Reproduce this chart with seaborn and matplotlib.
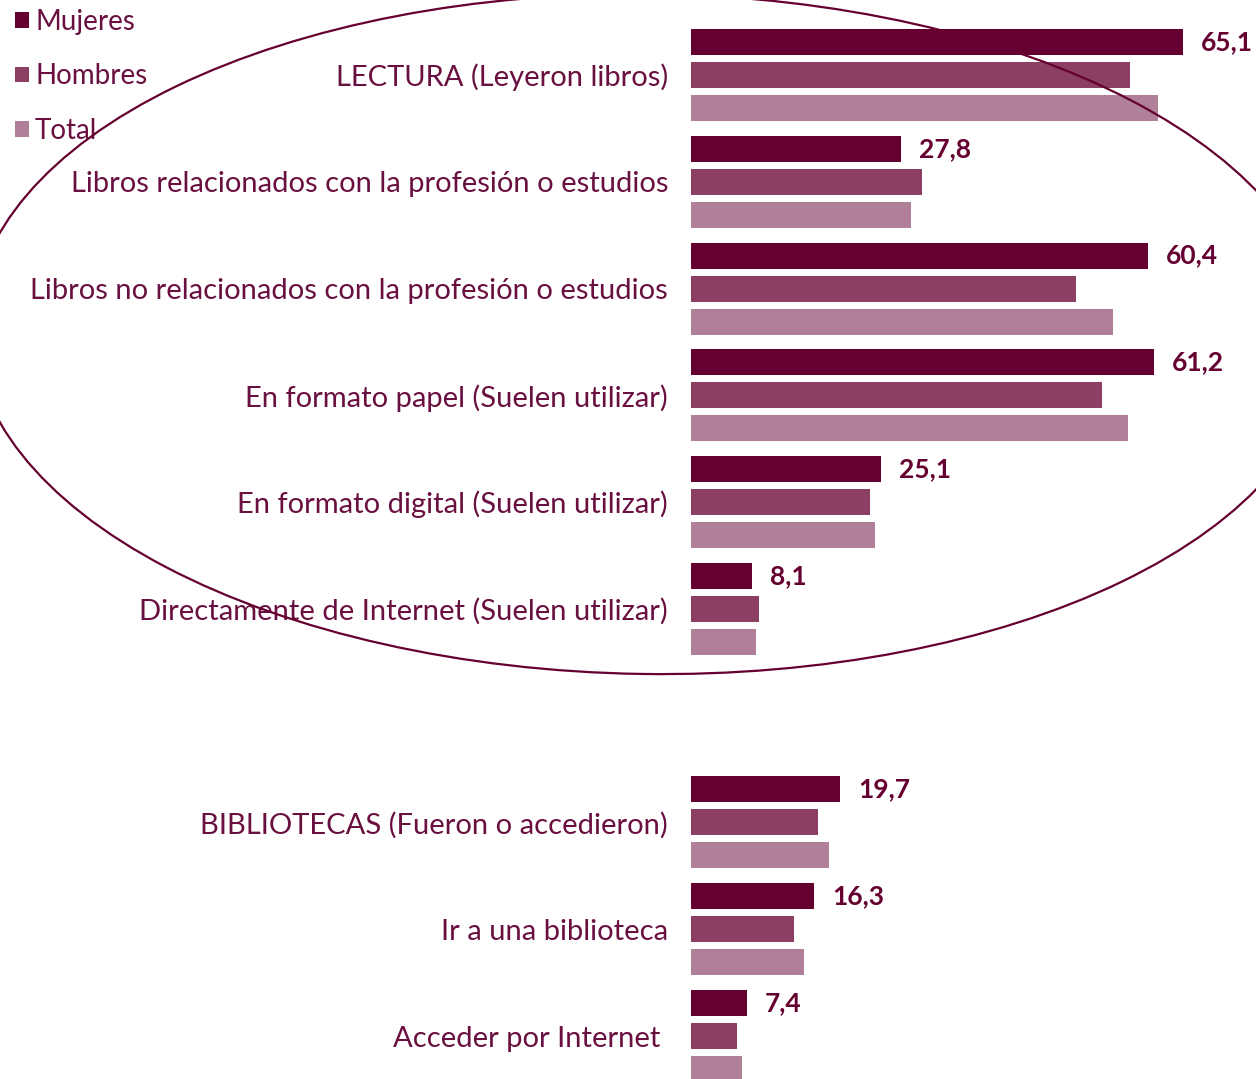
import matplotlib
matplotlib.use("Agg")
import matplotlib.pyplot as plt
from matplotlib.patches import Ellipse
import seaborn as sns
import pandas as pd

categories = [
    "LECTURA (Leyeron libros)",
    "Libros relacionados con la profesión o estudios",
    "Libros no relacionados con la profesión o estudios",
    "En formato papel (Suelen utilizar)",
    "En formato digital (Suelen utilizar)",
    "Directamente de Internet (Suelen utilizar)",
    "BIBLIOTECAS (Fueron o accedieron)",
    "Ir a una biblioteca",
    "Acceder por Internet ",
]
mujeres = [65.1, 27.8, 60.4, 61.2, 25.1, 8.1, 19.7, 16.3, 7.4]
hombres = [58.1, 30.6, 50.9, 54.4, 23.7, 9.0, 16.8, 13.6, 6.1]
total = [61.8, 29.1, 55.8, 57.8, 24.3, 8.6, 18.3, 14.9, 6.7]
series = ["Mujeres", "Hombres", "Total"]

rows = []
for s, vals in zip(series, [mujeres, hombres, total]):
    for c, v in zip(categories, vals):
        rows.append({"cat": c, "serie": s, "valor": v})
df = pd.DataFrame(rows)
order = categories[:6] + [" "] + categories[6:]

sns.set_theme(style="white")
plt.rcParams["font.family"] = ["Lato", "DejaVu Sans"]

W, H = 1256, 1079
fig = plt.figure(figsize=(W / 100, H / 100), dpi=100)
ax = fig.add_axes([691 / W, 0, (W - 691) / W, 1])

colors = ["#650030", "#8B4063", "#B07F98"]
text_color = "#6a1040"

sns.barplot(data=df, y="cat", x="valor", hue="serie", order=order,
            hue_order=series, palette=colors, orient="h", saturation=1,
            width=0.927, gap=0.214, linewidth=0, ax=ax, errorbar=None,
            legend=True)

ax.set_xlim(0, (W - 691) / 7.56)
ax.set_ylim(9 + (H - 1036) / 106.8, -75 / 106.8)
for sp in ax.spines.values():
    sp.set_visible(False)
ax.set_xlabel("")
ax.set_ylabel("")
ax.set_xticks([])
ax.tick_params(axis="y", length=0, pad=16.5, labelsize=21, labelcolor=text_color)

cont = ax.containers[0]
labels = [f"{v:.1f}".replace(".", ",") for v in cont.datavalues]
ax.bar_label(cont, labels=labels, padding=13, fontsize=19, fontweight="bold",
             color="#650030", clip_on=False)

leg = ax.legend(loc="upper left", bbox_to_anchor=(4 / W, 1 + 2 / H),
                bbox_transform=fig.transFigure, frameon=False, fontsize=20,
                handlelength=0.5, handleheight=0.5, handletextpad=0.22,
                labelspacing=1.02, borderaxespad=0)
for t in leg.get_texts():
    t.set_color(text_color)

ell = Ellipse((649 / W, 1 - 334 / H), 1352 / W, 680 / H, angle=-1.0,
              transform=fig.transFigure, fill=False, edgecolor="#650030",
              linewidth=1.6, clip_on=False)
fig.add_artist(ell)

fig.savefig("out.png", dpi=100)
